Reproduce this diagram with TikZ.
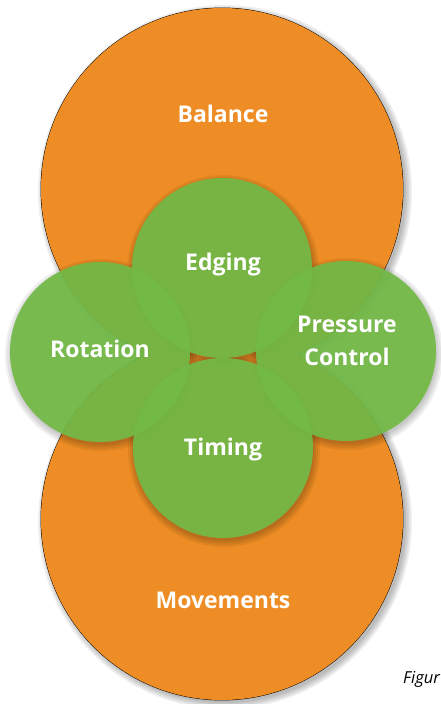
\documentclass[tikz,border=0pt]{standalone}
\usepackage{fontspec}
\setmainfont{Open Sans}
\usetikzlibrary{positioning}
\definecolor{skiorange}{HTML}{EE8D25}
\definecolor{skigreen}{HTML}{72BA46}
\begin{document}
\begin{tikzpicture}[x=1pt,y=-1pt,
   ring/.style={circle,fill=skiorange,minimum size=362pt,inner sep=0pt},
   skill/.style={circle,fill=skigreen,fill opacity=0.93,minimum size=180pt,inner sep=0pt},
   haze/.style={fill=black,opacity=0.06},
   tag/.style={text=white,font=\bfseries\fontsize{23}{33}\selectfont,align=center}]
   \useasboundingbox (0,0) rectangle (441,704);
   % soft shadows of the orange rings
   \foreach \px/\py in {222/189,222/519}
     \foreach \d in {0,1.5,...,6}
       \fill[haze] (\px+3,\py+3) circle[radius=181pt+\d pt];
   % orange rings, outline first then refill
   \node[ring,draw=black,line width=0.9pt] (upper) at (222,189) {};
   \node[ring,draw=black,line width=0.9pt] (lower) at (222,519) {};
   \node[ring] (upperfill) at (upper) {};
   \node[ring] (lowerfill) at (lower) {};
   % soft shadows of the green circles
   \foreach \px/\py in {222/268,100/352,346/351,223/448}
     \foreach \d in {2,4,...,8}
       \fill[haze,opacity=0.06] (\px+1,\py+3) circle[radius=88pt+\d pt];
   % green circles
   \node[skill] (edging) at (222,268) {};
   \node[skill] (rotation) at (100,352) {};
   \node[skill] (pressure) at (346,351) {};
   \node[skill] (timing) at (223,448) {};
   % labels
   \node[tag,anchor=base] (balance) at (223,122) {Balance};
   \node[tag,anchor=base] (edgingtxt) at (223,270) {Edging};
   \node[tag,anchor=base] (rotationtxt) at (100,357) {Rotation};
   \node[tag] (pressuretxt) at (347,341) {Pressure\\Control};
   \node[tag,anchor=base] (timingtxt) at (223,455) {Timing};
   \node[tag,anchor=base] (movements) at (223,608) {Movements};
   \node[anchor=base west,inner sep=0pt,font=\itshape\fontsize{16.5}{20}\selectfont] (figure) at (403,683) {Figur};
\end{tikzpicture}
\end{document}
